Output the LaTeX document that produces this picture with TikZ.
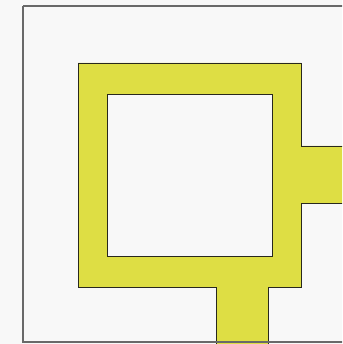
\documentclass[tikz,border=0pt]{standalone}
\definecolor{bgc}{RGB}{248,248,248}
\definecolor{fillyel}{RGB}{222,222,68}
\definecolor{edgedark}{RGB}{40,40,30}
\definecolor{framegray}{RGB}{105,105,105}
\tikzset{
  corridor/.style={fill=fillyel, draw=edgedark, line width=0.9pt, even odd rule, line join=miter},
  frame/.style={draw=framegray, line width=1.6pt}
}
\begin{document}
\begin{tikzpicture}[x=1pt,y=-1pt]
  \fill[bgc] (0,0) rectangle (342,344);
  \useasboundingbox (0,0) rectangle (342,344);
  \begin{scope}
    \clip (0,0) rectangle (342,344);
    \path[corridor]
      (78,63) -- (301,63) -- (301,146) -- (350,146) -- (350,203) -- (301,203)
      -- (301,287) -- (268,287) -- (268,352) -- (216,352) -- (216,287)
      -- (78,287) -- cycle
      (107,94) -- (272,94) -- (272,256) -- (107,256) -- cycle;
    \draw[frame] (23,6) -- (350,6) (23,6) -- (23,342) -- (350,342);
  \end{scope}
\end{tikzpicture}
\end{document}
